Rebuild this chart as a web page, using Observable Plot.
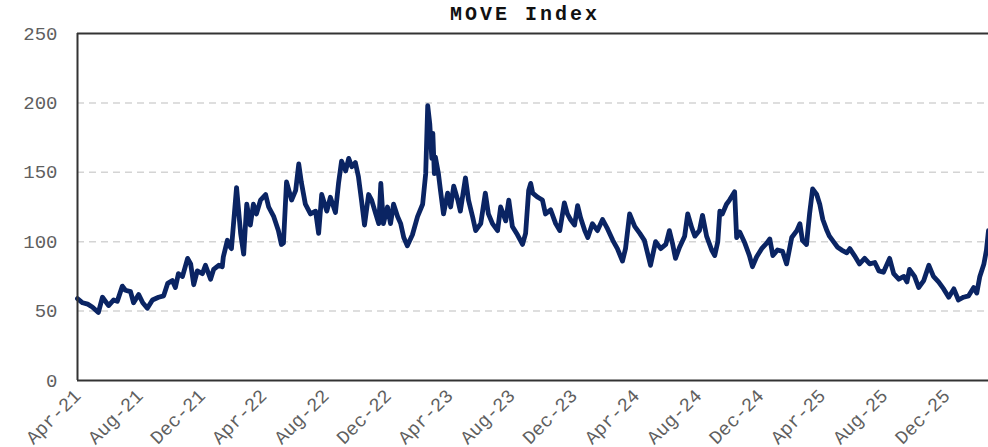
<!DOCTYPE html>
<html>
<head>
<meta charset="utf-8">
<script src="https://cdn.jsdelivr.net/npm/d3@7"></script>
<script src="https://cdn.jsdelivr.net/npm/@observablehq/plot@0.6"></script>
<style>
  html, body { margin: 0; padding: 0; background: white; overflow: hidden; }
  #wrap { position: relative; width: 988px; height: 447px; }
  #title { position: absolute; left: 0; top: 4px; width: 1050px; text-align: center;
    font-family: 'Liberation Mono', 'Courier New', monospace; font-weight: bold; font-size: 20px;
    letter-spacing: 3px; color: #111; line-height: 22px; }
  #chart { position: absolute; left: 0; top: 28px; }
</style>
</head>
<body>
<div id="wrap">
  <div id="title">MOVE Index</div>
  <div id="chart"></div>
</div>
<script>
const title = "MOVE Index";
const dates = [
"2021-04-26","2021-05-06","2021-05-16","2021-05-25","2021-06-06","2021-06-14","2021-06-26","2021-07-06","2021-07-13","2021-07-23",
"2021-07-29","2021-08-08","2021-08-14","2021-08-24","2021-09-01","2021-09-10","2021-09-20","2021-10-02","2021-10-12","2021-10-20",
"2021-10-29","2021-11-04","2021-11-10","2021-11-18","2021-11-28","2021-12-04","2021-12-10","2021-12-17","2021-12-27","2022-01-02",
"2022-01-12","2022-01-18","2022-01-28","2022-02-04","2022-02-06","2022-02-14","2022-02-16","2022-02-22","2022-03-04","2022-03-12",
"2022-03-18","2022-03-24","2022-03-31","2022-04-06","2022-04-12","2022-04-20","2022-04-30","2022-05-06","2022-05-16","2022-05-25",
"2022-05-31","2022-06-04","2022-06-10","2022-06-20","2022-06-28","2022-07-04","2022-07-09","2022-07-17","2022-07-27","2022-08-06",
"2022-08-12","2022-08-18","2022-08-28","2022-09-04","2022-09-14","2022-09-20","2022-09-26","2022-10-04","2022-10-10","2022-10-16",
"2022-10-23","2022-10-29","2022-11-04","2022-11-10","2022-11-18","2022-11-24","2022-12-02","2022-12-08","2022-12-12","2022-12-17",
"2022-12-25","2022-12-31","2023-01-06","2023-01-14","2023-01-20","2023-01-26","2023-02-02","2023-02-12","2023-02-22","2023-03-04",
"2023-03-10","2023-03-14","2023-03-18","2023-03-22","2023-03-24","2023-03-27","2023-03-29","2023-04-04","2023-04-08","2023-04-14",
"2023-04-22","2023-04-28","2023-05-04","2023-05-12","2023-05-17","2023-05-27","2023-06-02","2023-06-10","2023-06-16","2023-06-26",
"2023-07-05","2023-07-11","2023-07-19","2023-07-29","2023-08-04","2023-08-14","2023-08-20","2023-08-27","2023-09-06","2023-09-16",
"2023-09-22","2023-09-28","2023-10-02","2023-10-06","2023-10-16","2023-10-25","2023-10-31","2023-11-10","2023-11-20","2023-11-28",
"2023-12-07","2023-12-13","2023-12-19","2023-12-27","2024-01-02","2024-01-08","2024-01-16","2024-01-22","2024-01-31","2024-02-10",
"2024-02-20","2024-03-01","2024-03-11","2024-03-20","2024-03-30","2024-04-05","2024-04-13","2024-04-23","2024-05-03","2024-05-12",
"2024-05-18","2024-05-24","2024-06-03","2024-06-13","2024-06-23","2024-06-30","2024-07-06","2024-07-12","2024-07-20","2024-07-30",
"2024-08-05","2024-08-13","2024-08-19","2024-08-28","2024-09-03","2024-09-11","2024-09-21","2024-09-27","2024-10-03","2024-10-07",
"2024-10-12","2024-10-20","2024-10-26","2024-11-05","2024-11-09","2024-11-15","2024-11-25","2024-12-04","2024-12-10","2024-12-18",
"2024-12-28","2025-01-07","2025-01-13","2025-01-19","2025-01-28","2025-02-07","2025-02-15","2025-02-25","2025-03-07","2025-03-13",
"2025-03-18","2025-03-26","2025-04-01","2025-04-07","2025-04-15","2025-04-21","2025-04-27","2025-05-05","2025-05-10","2025-05-20",
"2025-05-26","2025-06-03","2025-06-13","2025-06-19","2025-06-28","2025-07-08","2025-07-18","2025-07-28","2025-08-07","2025-08-15",
"2025-08-24","2025-09-05","2025-09-13","2025-09-23","2025-10-03","2025-10-09","2025-10-14","2025-10-24","2025-11-01","2025-11-11",
"2025-11-21","2025-11-30","2025-12-10","2025-12-20","2025-12-30","2026-01-09","2026-01-18","2026-01-28","2026-02-07","2026-02-17",
"2026-02-23","2026-03-01","2026-03-09","2026-03-14","2026-03-18"
];
const values = [
59,56,55,53,49,60,54,58,57,68,
65,64,56,62,56,52,58,60,61,70,
72,67,77,75,88,84,69,79,77,83,
73,80,83,82,89,101,98,95,139,106,
91,127,112,127,120,130,134,125,118,108,
98,99,143,130,137,156,143,127,120,122,
106,134,122,132,121,142,158,151,160,154,
157,147,130,112,134,130,120,113,142,113,
125,113,127,118,113,103,97,105,118,127,
149,198,185,160,178,149,161,149,137,120,
135,125,140,130,122,146,130,118,108,113,
135,120,113,108,125,115,130,111,105,98,
106,137,142,135,132,130,120,123,113,108,
128,120,116,112,126,117,108,103,113,108,
116,109,101,95,86,95,120,111,106,101,
92,83,100,95,98,108,99,88,96,104,
120,110,104,108,119,104,94,90,100,122,
120,127,130,136,103,107,99,90,82,89,
95,99,102,90,94,93,84,103,108,113,
101,98,120,138,134,127,116,108,104,99,
96,94,92,95,90,84,88,84,85,79,
78,88,77,73,75,71,80,75,67,72,
83,75,71,66,60,66,58,60,61,67,
63,75,84,94,108
];
const xStart = "2021-04-26";
const xEnd = "2026-03-18";
const xTicks = ["2021-04-26","2021-08-26","2021-12-26","2022-04-26","2022-08-26","2022-12-26","2023-04-26","2023-08-26",
  "2023-12-26","2024-04-26","2024-08-26","2024-12-26","2025-04-26","2025-08-26","2025-12-26"];
const yTicks = [0, 50, 100, 150, 200, 250];
const gridValues = [50, 100, 150, 200];

const data = dates.map((d, i) => ({date: new Date(d), value: values[i]}));

const chart = Plot.plot({
  width: 988,
  height: 419,
  marginTop: 5,
  marginBottom: 67,
  marginLeft: 77,
  marginRight: 0,
  x: {type: "utc", domain: [new Date(xStart), new Date(xEnd)]},
  y: {domain: [0, 250]},
  style: {fontFamily: "'Liberation Mono', 'Courier New', monospace", fontSize: "19px", color: "#5f5f5f", background: "white", overflow: "visible"},
  marks: [
    Plot.ruleY(gridValues, {stroke: "#d4d4d4", strokeWidth: 1.5, strokeDasharray: "7,5"}),
    Plot.axisY({ticks: yTicks, tickSize: 0, tickPadding: 20, label: null, fontSize: 19}),
    Plot.axisX({ticks: xTicks.map(d => new Date(d)), tickFormat: d3.utcFormat("%b-%y"), tickRotate: -45,
      tickSize: 0, tickPadding: 12, label: null, fontSize: 19}),
    Plot.line(data, {x: "date", y: "value", stroke: "#0a2463", strokeWidth: 4.8, strokeLinejoin: "round"}),
    Plot.ruleY([0, 250], {stroke: "#333", strokeWidth: 2}),
    Plot.ruleX([new Date(xStart)], {stroke: "#333", strokeWidth: 2})
  ]
});
document.getElementById("chart").appendChild(chart);
</script>
</body>
</html>
